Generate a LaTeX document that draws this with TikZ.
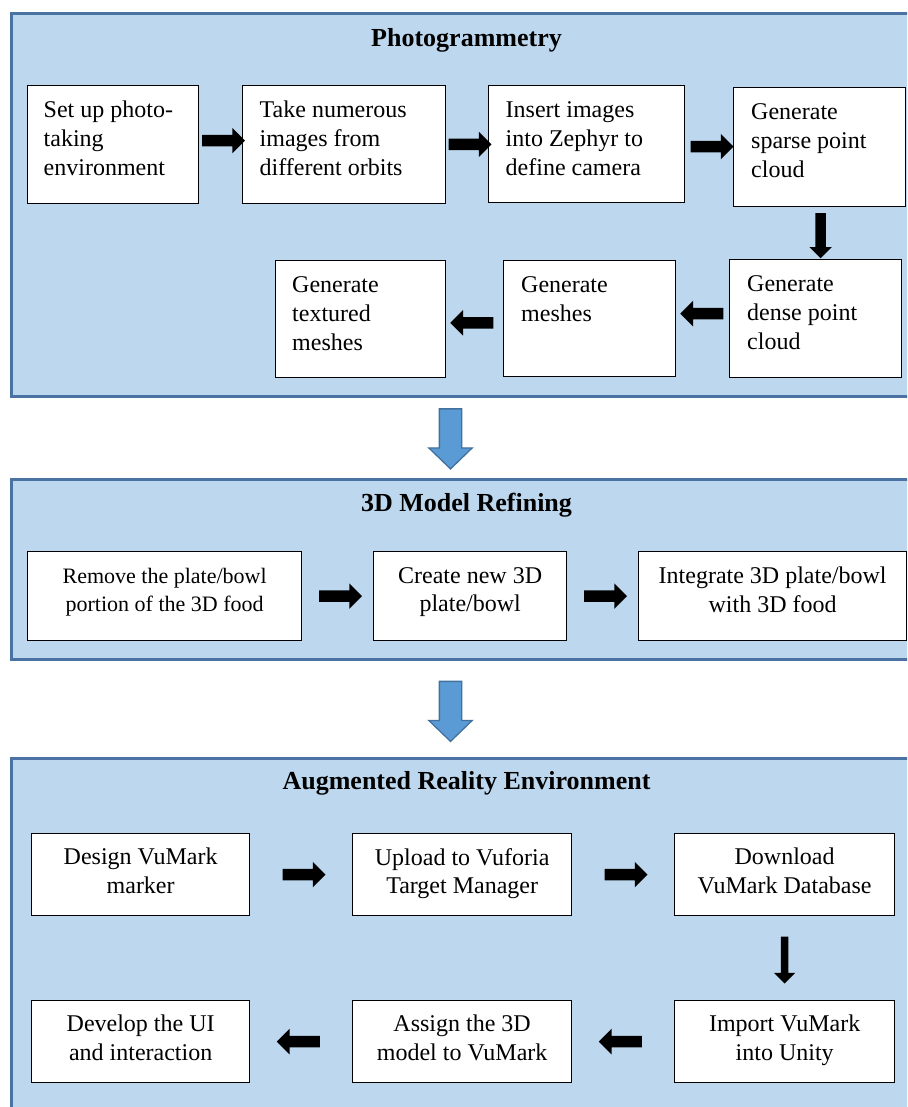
\documentclass[tikz,border=0pt]{standalone}
\usepackage{fontspec}
\setmainfont{Liberation Serif}
\usetikzlibrary{shapes.arrows,calc}
\definecolor{panelfill}{HTML}{BDD7EE}
\definecolor{panelline}{HTML}{4A72A2}
\definecolor{bluearrow}{HTML}{5B9BD5}
\definecolor{bluearrowline}{HTML}{41719C}
\begin{document}
\begin{tikzpicture}[x=1pt,y=-1pt,
  panel/.style={draw=panelline, line width=3pt, fill=panelfill, inner sep=0, anchor=north west, minimum width=910pt},
  stepbox/.style={draw=black, line width=1.3pt, fill=white, inner sep=0, anchor=north west},
  ltext/.style={anchor=north west, inner sep=0, align=left, font=\fontsize{24}{29}\selectfont},
  ctext/.style={anchor=north, inner sep=0, align=center, font=\fontsize{24}{28.5}\selectfont},
  paneltitle/.style={inner sep=0, font=\fontsize{26}{30}\selectfont\bfseries},
  blk/.style={single arrow, fill=black, draw=none, inner sep=0, text height=5.5pt, text depth=5.5pt, minimum height=43pt, single arrow head extend=7pt, single arrow tip angle=90},
  blkR/.style={blk, shape border rotate=0},
  blkL/.style={blk, shape border rotate=180},
  blkD/.style={single arrow, fill=black, draw=none, inner sep=0, text height=0pt, text depth=0pt, text width=10pt, minimum height=45pt, single arrow head extend=6pt, single arrow tip angle=90, shape border rotate=270},
  bluearr/.style={single arrow, fill=bluearrow, draw=bluearrowline, line width=1.3pt, inner sep=0, text height=0pt, text depth=0pt, text width=21pt, minimum height=60pt, single arrow head extend=10.5pt, single arrow tip angle=92, shape border rotate=270}
]
\useasboundingbox (0,0) rectangle (907,1107);
\clip (0,0) rectangle (907,1107);

% panels
\node[panel, minimum height=383pt] (p1) at (10,12) {};
\node[panel, minimum height=180pt] (p2) at (10,478) {};
\node[panel, minimum height=363pt] (p3) at (10,757) {};

\node[paneltitle] (t1) at ($(p1.north)+(0,28)$) {Photogrammetry};
\node[paneltitle] (t2) at ($(p2.north)+(0,27)$) {3D Model Refining};
\node[paneltitle] (t3) at ($(p3.north)+(0,26)$) {Augmented Reality Environment};

% Photogrammetry boxes
\node[stepbox, minimum width=171pt, minimum height=118pt] (b1) at (27,85) {};
\node[stepbox, minimum width=203pt, minimum height=118pt] (b2) at (242,85) {};
\node[stepbox, minimum width=196pt, minimum height=117pt] (b3) at (488,85) {};
\node[stepbox, minimum width=172pt, minimum height=119pt] (b4) at (733,87) {};
\node[stepbox, minimum width=172pt, minimum height=118pt] (b5) at (729,259) {};
\node[stepbox, minimum width=172pt, minimum height=116pt] (b6) at (503,260) {};
\node[stepbox, minimum width=170pt, minimum height=117pt] (b7) at (275,260) {};

\node[ltext] (b1t) at ($(b1.north west)+(16.5,16)$) {Set up photo-\\taking\\environment};
\node[ltext] (b2t) at ($(b2.north west)+(17.5,16)$) {Take numerous\\images from\\different orbits};
\node[ltext] (b3t) at ($(b3.north west)+(17.5,16)$) {Insert images\\into Zephyr to\\define camera};
\node[ltext] (b4t) at ($(b4.north west)+(18,16)$) {Generate\\sparse point\\cloud};
\node[ltext] (b5t) at ($(b5.north west)+(18,16)$) {Generate\\dense point\\cloud};
\node[ltext] (b6t) at ($(b6.north west)+(18,16)$) {Generate\\meshes};
\node[ltext] (b7t) at ($(b7.north west)+(17,16)$) {Generate\\textured\\meshes};

\path (b1.east) -- (b2.west) node[midway, blkR, yshift=4pt] (a1) {};
\path (b2.east) -- (b3.west) node[midway, blkR] (a2) {};
\path (b3.east) -- (b4.west) node[midway, blkR, yshift=-1pt] (a3) {};
\path (b4.south) -- (b5.north) node[midway, blkD, xshift=3pt] (a4) {};
\path (b5.west) -- (b6.east) node[midway, blkL, xshift=2pt, yshift=5pt] (a5) {};
\path (b6.west) -- (b7.east) node[midway, blkL, yshift=-4pt] (a6) {};

% blue arrows between panels
\path (p1.south) -- (p2.north) node[midway, bluearr, xshift=-16pt, yshift=4.5pt] (ba1) {};
\path (p2.south) -- (p3.north) node[midway, bluearr, xshift=-16pt, yshift=3pt] (ba2) {};

% 3D Model Refining
\node[stepbox, minimum width=274pt, minimum height=89pt] (c1) at (27,551) {};
\node[stepbox, minimum width=193pt, minimum height=89pt] (c2) at (373,551) {};
\node[stepbox, minimum width=268pt, minimum height=89pt] (c3) at (638,551) {};
\node[ctext, font=\fontsize{22}{28}\selectfont] (c1t) at ($(c1.north)+(0,17)$) {Remove the plate/bowl\\portion of the 3D food};
\node[ctext] (c2t) at ($(c2.north)+(0,16)$) {Create new 3D\\plate/bowl};
\node[ctext] (c3t) at ($(c3.north)+(0,16)$) {Integrate 3D plate/bowl\\with 3D food};
\path (c1.east) -- (c2.west) node[midway, blkR] (a7) {};
\path (c2.east) -- (c3.west) node[midway, blkR] (a8) {};

% Augmented Reality Environment
\node[stepbox, minimum width=218pt, minimum height=82pt] (d1) at (31,833) {};
\node[stepbox, minimum width=219pt, minimum height=82pt] (d2) at (352,833) {};
\node[stepbox, minimum width=220pt, minimum height=82pt] (d3) at (674,833) {};
\node[stepbox, minimum width=220pt, minimum height=82pt] (d4) at (674,1000) {};
\node[stepbox, minimum width=219pt, minimum height=82pt] (d5) at (352,1000) {};
\node[stepbox, minimum width=218pt, minimum height=82pt] (d6) at (31,1000) {};
\node[ctext] (d1t) at ($(d1.north)+(0,15)$) {Design VuMark\\marker};
\node[ctext] (d2t) at ($(d2.north)+(0,15)$) {Upload to Vuforia\\Target Manager};
\node[ctext] (d3t) at ($(d3.north)+(0,15)$) {Download\\VuMark Database};
\node[ctext] (d4t) at ($(d4.north)+(0,15)$) {Import VuMark\\into Unity};
\node[ctext] (d5t) at ($(d5.north)+(0,15)$) {Assign the 3D\\model to VuMark};
\node[ctext] (d6t) at ($(d6.north)+(0,15)$) {Develop the UI\\and interaction};
\path (d1.east) -- (d2.west) node[midway, blkR] (a9) {};
\path (d2.east) -- (d3.west) node[midway, blkR] (a10) {};
\path (d3.south) -- (d4.north) node[midway, blkD, text width=7pt, minimum height=47pt, single arrow head extend=7pt] (a11) {};
\path (d4.west) -- (d5.east) node[midway, blkL] (a12) {};
\path (d5.west) -- (d6.east) node[midway, blkL] (a13) {};
\end{tikzpicture}
\end{document}
